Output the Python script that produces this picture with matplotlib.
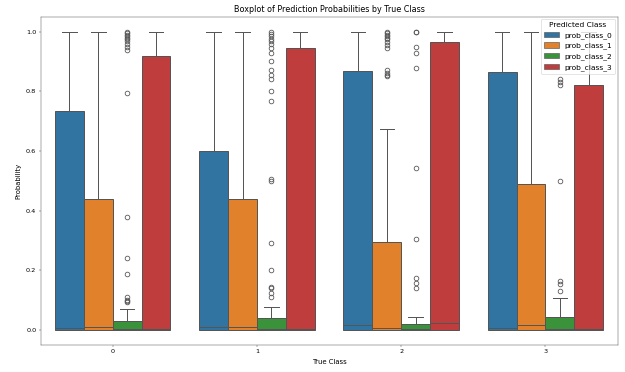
import matplotlib
matplotlib.use("Agg")
import matplotlib.pyplot as plt
from matplotlib.patches import Patch

true_classes = [0, 1, 2, 3]
predicted_labels = ["prob_class_0", "prob_class_1", "prob_class_2", "prob_class_3"]
colors = ["#3274a1", "#e1812c", "#3a923a", "#c03d3e"]

# Box statistics per true class (rows) and predicted class (columns)
q1 = [[0.0, 0.0, 0.0, 0.0],
      [0.0, 0.0, 0.0, 0.0],
      [0.0, 0.0, 0.0, 0.0],
      [0.0, 0.0, 0.0, 0.0]]
medians = [[0.005, 0.011, 0.002, 0.003],
           [0.010, 0.010, 0.003, 0.004],
           [0.017, 0.005, 0.002, 0.022],
           [0.006, 0.016, 0.002, 0.002]]
q3 = [[0.735, 0.440, 0.030, 0.920],
      [0.600, 0.438, 0.040, 0.945],
      [0.868, 0.294, 0.020, 0.964],
      [0.866, 0.490, 0.045, 0.822]]
whisker_low = [[0.0, 0.0, 0.0, 0.0],
               [0.0, 0.0, 0.0, 0.0],
               [0.0, 0.0, 0.0, 0.0],
               [0.0, 0.0, 0.0, 0.0]]
whisker_high = [[1.0, 1.0, 0.069, 1.0],
                [1.0, 1.0, 0.078, 1.0],
                [1.0, 0.673, 0.045, 1.0],
                [1.0, 1.0, 0.108, 1.0]]
fliers = [
    [[], [],
     [1.0, 0.995, 0.99, 0.985, 0.98, 0.975, 0.97, 0.96, 0.95, 0.94, 0.795,
      0.377, 0.242, 0.188, 0.112, 0.102, 0.097, 0.092],
     []],
    [[], [],
     [1.0, 0.993, 0.985, 0.977, 0.968, 0.957, 0.946, 0.929, 0.90, 0.872, 0.855,
      0.842, 0.80, 0.769, 0.506, 0.50, 0.292, 0.201, 0.145, 0.14, 0.123, 0.11],
     []],
    [[],
     [1.0, 0.995, 0.99, 0.985, 0.98, 0.975, 0.965, 0.955, 0.945, 0.87, 0.86,
      0.855, 0.85],
     [1.0, 0.998, 0.95, 0.928, 0.878, 0.543, 0.305, 0.173, 0.157, 0.14],
     []],
    [[], [],
     [0.84, 0.83, 0.82, 0.50, 0.165, 0.155, 0.13],
     []],
]

dpi = 44.64
fig = plt.figure(figsize=(625 / dpi, 372 / dpi), dpi=dpi)
ax = fig.add_axes([0.065, 0.073, 0.923, 0.882])

line_color = "#555555"
n_hue = len(predicted_labels)
box_w = 0.8 / n_hue
for i, tc in enumerate(true_classes):
    for j in range(n_hue):
        stats = [{
            "q1": q1[i][j], "med": medians[i][j], "q3": q3[i][j],
            "whislo": whisker_low[i][j], "whishi": whisker_high[i][j],
            "fliers": fliers[i][j],
        }]
        pos = tc - 0.4 + box_w * (j + 0.5)
        ax.bxp(stats, positions=[pos], widths=box_w, capwidths=box_w / 2,
               patch_artist=True, showfliers=True, manage_ticks=False,
               boxprops=dict(facecolor=colors[j], edgecolor=line_color, linewidth=1.6),
               medianprops=dict(color=line_color, linewidth=1.6),
               whiskerprops=dict(color=line_color, linewidth=1.6),
               capprops=dict(color=line_color, linewidth=1.6),
               flierprops=dict(marker="o", markerfacecolor="none",
                               markeredgecolor=line_color, markersize=7.5,
                               markeredgewidth=1.3))

ax.set_xlim(-0.5, 3.5)
ax.set_ylim(-0.05, 1.05)
ax.set_xticks(true_classes)
ax.set_xticklabels([str(c) for c in true_classes])
ax.set_yticks([0.0, 0.2, 0.4, 0.6, 0.8, 1.0])
ax.tick_params(labelsize=10.5, color="#555555")
for s in ax.spines.values():
    s.set_color("#555555")
ax.set_title("Boxplot of Prediction Probabilities by True Class", fontsize=13, pad=7)
ax.set_xlabel("True Class", fontsize=11, labelpad=8)
ax.set_ylabel("Probability", fontsize=11, labelpad=7)

handles = [Patch(facecolor=c, edgecolor=line_color, label=l)
           for c, l in zip(colors, predicted_labels)]
ax.legend(handles=handles, title="Predicted Class", loc="upper right",
          fontsize=12, title_fontsize=12, borderaxespad=0.3)

fig.savefig("out.png", dpi=dpi)
